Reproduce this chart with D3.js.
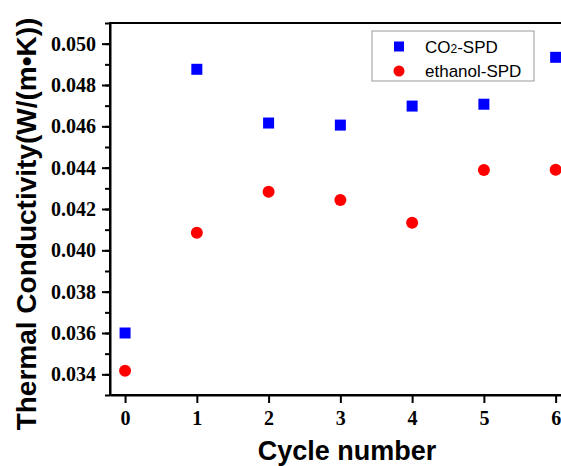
<html>
<head>
<style>
  body { margin: 0; background: #fff; }
  svg { display: block; }
  .axis .tick text { font-family: "Liberation Serif", "Times New Roman", serif; font-weight: bold; font-size: 20px; fill: #000; }
  .axis path, .axis line { stroke: #000; stroke-width: 2px; }
</style>
</head>
<body>
<svg class="chart" width="561" height="466"></svg>
<script src="https://cdnjs.cloudflare.com/ajax/libs/d3/7.8.5/d3.min.js"></script>
<script>
var cycles = [0, 1, 2, 3, 4, 5, 6];
var co2Spd = [0.0360, 0.04876, 0.04616, 0.04606, 0.04698, 0.04707, 0.04934];
var ethanolSpd = [0.03417, 0.04085, 0.04283, 0.04244, 0.04133, 0.04389, 0.04390];
var yTicks = [0.034, 0.036, 0.038, 0.040, 0.042, 0.044, 0.046, 0.048, 0.050];

var mLeft = 110, mTop = 23, mBottom = 395, mRight = 570;

var svg = d3.select('.chart');

var x = d3.scaleLinear().domain([-0.21, 6.2]).range([mLeft, mRight]);
var y = d3.scaleLinear().domain([0.033, 0.051]).range([mBottom, mTop]);

// frame
svg.append('rect')
  .attr('x', mLeft).attr('y', mTop)
  .attr('width', mRight - mLeft).attr('height', mBottom - mTop)
  .attr('fill', 'none').attr('stroke', '#000').attr('stroke-width', 2);

// minor y ticks
var minor = d3.range(0.033, 0.0511, 0.001);
svg.append('g').attr('class', 'axis')
  .attr('transform', 'translate(' + mLeft + ',0)')
  .call(d3.axisLeft(y).tickValues(minor).tickSize(5).tickFormat(''))
  .select('.domain').remove();

svg.append('g').attr('class', 'axis')
  .attr('transform', 'translate(' + mLeft + ',0)')
  .call(d3.axisLeft(y).tickValues(yTicks).tickSize(8).tickSizeOuter(0).tickPadding(6).tickFormat(d3.format('.3f')));

svg.append('g').attr('class', 'axis')
  .attr('transform', 'translate(0,' + mBottom + ')')
  .call(d3.axisBottom(x).tickValues(cycles).tickSize(8).tickSizeOuter(0).tickPadding(8).tickFormat(d3.format('d')));

// data
var co2Data = cycles.map(function(c, i) { return { x: c, y: co2Spd[i] }; });
var ethData = cycles.map(function(c, i) { return { x: c, y: ethanolSpd[i] }; });

svg.selectAll('.sq').data(co2Data).enter().append('rect')
  .attr('class', 'sq')
  .attr('x', function(d) { return x(d.x) - 5.5; })
  .attr('y', function(d) { return y(d.y) - 5.5; })
  .attr('width', 11).attr('height', 11)
  .attr('fill', '#0000ff');

svg.selectAll('.dot').data(ethData).enter().append('circle')
  .attr('class', 'dot')
  .attr('cx', function(d) { return x(d.x); })
  .attr('cy', function(d) { return y(d.y); })
  .attr('r', 6)
  .attr('fill', '#ff0000');

// legend
var lg = svg.append('g');
lg.append('rect').attr('x', 372).attr('y', 31).attr('width', 162).attr('height', 50)
  .attr('fill', '#fff').attr('stroke', '#999').attr('stroke-width', 1);
lg.append('rect').attr('x', 394).attr('y', 41.5).attr('width', 10).attr('height', 10).attr('fill', '#0000ff');
lg.append('circle').attr('cx', 399).attr('cy', 71).attr('r', 5.5).attr('fill', '#ff0000');
var t1 = lg.append('text').attr('x', 425).attr('y', 53)
  .style('font-family', '"Liberation Sans", Arial, sans-serif').style('font-size', '17px');
t1.append('tspan').text('CO');
t1.append('tspan').text('2').style('font-size', '12px');
t1.append('tspan').text('-SPD');
lg.append('text').attr('x', 425).attr('y', 77)
  .style('font-family', '"Liberation Sans", Arial, sans-serif').style('font-size', '17px')
  .text('ethanol-SPD');

// axis titles
svg.append('text')
  .attr('transform', 'translate(36,224) rotate(-90)')
  .attr('text-anchor', 'middle')
  .style('font-family', '"Liberation Sans", Arial, sans-serif').style('font-weight', 'bold').style('font-size', '28px')
  .text('Thermal Conductivity(W/(m\u2022K))');

svg.append('text')
  .attr('x', 347).attr('y', 460)
  .attr('text-anchor', 'middle')
  .style('font-family', '"Liberation Sans", Arial, sans-serif').style('font-weight', 'bold').style('font-size', '27px')
  .text('Cycle number');
</script>
</body>
</html>
